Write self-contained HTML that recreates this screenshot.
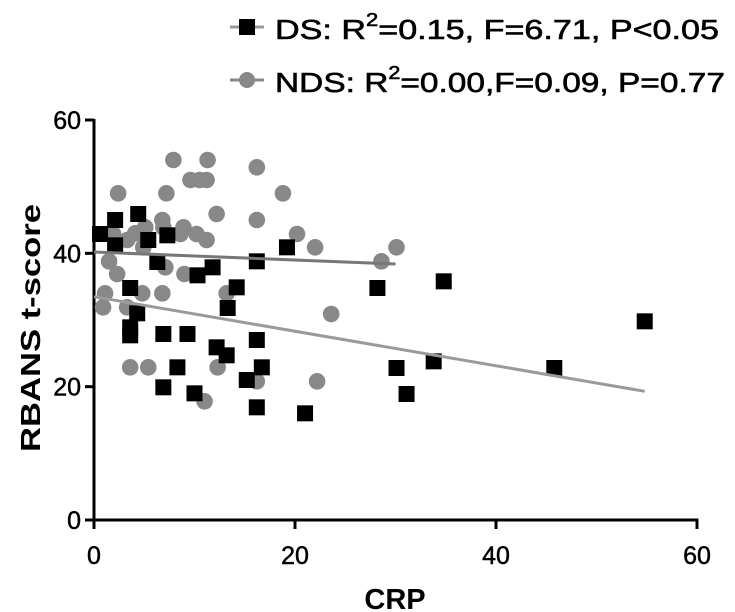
<!DOCTYPE html>
<html><head><meta charset="utf-8"><style>
html,body{margin:0;padding:0;background:#fff;}
svg{display:block;font-family:"Liberation Sans",sans-serif;font-weight:bold;}
</style></head><body>
<svg id="chart" width="735" height="612" viewBox="0 0 735 612">
  <g>
    <g>
      <line x1="230" y1="27" x2="264" y2="27" stroke="#999" stroke-width="3"/>
      <rect x="239" y="19" width="16" height="16" fill="#000"/>
      <text x="275" y="39" font-size="28" font-weight="normal" stroke="#000" stroke-width="0.6" textLength="444" lengthAdjust="spacingAndGlyphs">DS: R<tspan dy="-13" font-size="18">2</tspan><tspan dy="13">=0.15, F=6.71, P&lt;0.05</tspan></text>
    </g>
    <g>
      <line x1="230" y1="80" x2="264" y2="80" stroke="#888" stroke-width="3"/>
      <circle cx="247" cy="80" r="8" fill="#888"/>
      <text x="275" y="92" font-size="28" font-weight="normal" stroke="#000" stroke-width="0.6" textLength="450" lengthAdjust="spacingAndGlyphs">NDS: R<tspan dy="-13" font-size="18">2</tspan><tspan dy="13">=0.00,F=0.09, P=0.77</tspan></text>
    </g>
  </g>
  <g id="axes"></g>
  <g id="marks"></g>
  <text x="40" y="328" font-size="28" text-anchor="middle" textLength="248" lengthAdjust="spacingAndGlyphs" transform="rotate(-90 40 328)">RBANS  t-score</text>
  <text x="395" y="609" font-size="29" text-anchor="middle">CRP</text>
</svg>
<script>
const xTicks = [0, 20, 40, 60];
const yTicks = [0, 20, 40, 60];
const dsX = [0.6,2.1,2.1,4.4,5.4,7.3,6.3,10.3,11.8,14.2,13.3,16.2,19.2,3.6,4.3,3.6,3.6,6.9,9.3,12.2,13.2,16.2,8.3,16.7,15.2,6.9,10,16.2,21,28.2,34.8,54.8,30.1,33.8,45.8,31.1];
const dsY = [42.9,45,41.2,45.9,42,42.7,38.7,36.7,37.9,34.9,31.8,38.8,40.9,34.8,31,28.9,27.7,27.9,27.9,25.9,24.7,27,22.9,22.9,21,19.9,19,16.9,16,34.8,35.8,29.8,22.8,23.8,22.8,18.9];
const ndsX = [7.9,11.3,16.2,9.6,10.5,11.2,2.4,7.2,18.8,12.2,16.2,6.8,5.1,1.9,3.3,4.1,6.9,8.9,8.6,10.2,11.2,20.2,22,4.9,1.5,2.3,7.1,9,1.1,0.9,3.3,4.8,6.8,13.2,23.6,3.6,5.4,12.3,16.2,22.2,11,30.1,28.6];
const ndsY = [54,54,52.9,51,51,51,49,49,49,45.9,45,45,43.9,42.9,42,43,43.9,43.9,42.9,42.9,42,42.9,40.9,40.9,38.8,36.9,37.9,36.9,34,31.9,31.9,34,34,34,30.9,22.9,22.9,22.9,20.8,20.8,17.8,40.9,38.8];
const dsFitX = [0, 54.8];
const dsFitY = [33.5, 19.3];
const ndsFitX = [0, 30];
const ndsFitY = [40.2, 38.4];

const NS = "http://www.w3.org/2000/svg";
const X0 = 94, X1 = 697, Y0 = 520, Y1 = 120;
function sx(v){ return X0 + (v - 0) / 60 * (X1 - X0); }
function sy(v){ return Y0 - (v - 0) / 60 * (Y0 - Y1); }
function mk(tag, attrs, parent){ const e = document.createElementNS(NS, tag); for (const k in attrs) e.setAttribute(k, attrs[k]); parent.appendChild(e); return e; }

const axes = document.getElementById('axes');
const marks = document.getElementById('marks');
let a = mk('line', {x1:X0, y1:Y1-1, x2:X0, y2:Y0+1.5, stroke:'#000', 'stroke-width':3}, axes);


a = mk('line', {x1:X0-1.5, y1:Y0, x2:X1+1.5, y2:Y0, stroke:'#000', 'stroke-width':3}, axes);


yTicks.forEach(v => {
  const t = mk('line', {x1:X0-9, y1:sy(v), x2:X0, y2:sy(v), stroke:'#000', 'stroke-width':3}, axes);
  
  
  const l = mk('text', {x:X0-13, y:sy(v)+9, 'font-size':25, 'text-anchor':'end', 'font-weight':'normal', stroke:'#000', 'stroke-width':0.5}, axes);
  l.textContent = v;
  
  
});
xTicks.forEach(v => {
  const t = mk('line', {x1:sx(v), y1:Y0, x2:sx(v), y2:Y0+9, stroke:'#000', 'stroke-width':3}, axes);
  
  
  const l = mk('text', {x:sx(v), y:Y0+44, 'font-size':25, 'text-anchor':'middle', 'font-weight':'normal', stroke:'#000', 'stroke-width':0.5}, axes);
  l.textContent = v;
  
  
});
ndsX.forEach((v, i) => {
  const c = mk('circle', {cx:sx(v), cy:sy(ndsY[i]), r:8.3, fill:'#888'}, marks);
  
  
});
dsX.forEach((v, i) => {
  const r = mk('rect', {x:sx(v)-8, y:sy(dsY[i])-8, width:16, height:16, fill:'#000'}, marks);
  
  
});
let f = mk('line', {x1:sx(dsFitX[0]), y1:sy(dsFitY[0]), x2:sx(dsFitX[1]), y2:sy(dsFitY[1]), stroke:'#9a9a9a', 'stroke-width':3}, marks);


f = mk('line', {x1:sx(ndsFitX[0]), y1:sy(ndsFitY[0]), x2:sx(ndsFitX[1]), y2:sy(ndsFitY[1]), stroke:'#777', 'stroke-width':3}, marks);


</script>
</body></html>
